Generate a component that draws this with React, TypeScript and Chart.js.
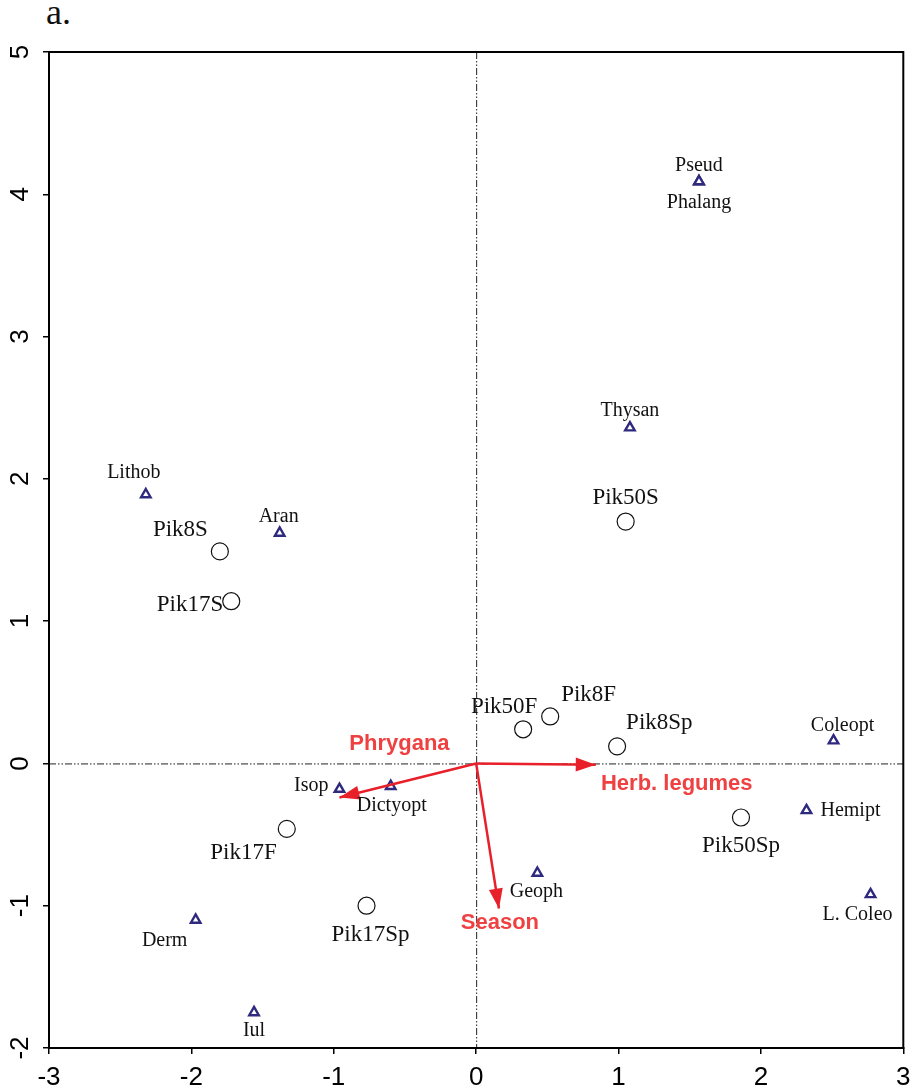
import React, { useEffect, useRef } from "react";
import { Chart, registerables } from "chart.js";

Chart.register(...registerables);

// ---- Data ----
const siteNames = ["Pik8S", "Pik17S", "Pik50S", "Pik50F", "Pik8F", "Pik8Sp", "Pik50Sp", "Pik17F", "Pik17Sp"];
const siteX = [-1.8, -1.72, 1.05, 0.33, 0.52, 0.99, 1.86, -1.33, -0.77];
const siteY = [1.49, 1.14, 1.7, 0.24, 0.33, 0.12, -0.38, -0.46, -1.0];

const speciesNames = ["Pseud", "Phalang", "Thysan", "Lithob", "Aran", "Coleopt", "Hemipt", "L. Coleo", "Isop", "Dictyopt", "Geoph", "Derm", "Iul"];
const speciesX = [1.565, 1.565, 1.08, -2.32, -1.38, 2.51, 2.32, 2.77, -0.96, -0.6, 0.43, -1.97, -1.56];
const speciesY = [4.09, 4.09, 2.36, 1.89, 1.62, 0.16, -0.33, -0.92, -0.18, -0.16, -0.77, -1.1, -1.75];

const arrowNames = ["Herb. legumes", "Phrygana", "Season"];
const arrowX = [0.84, -0.96, 0.16];
const arrowY = [-0.01, -0.24, -1.02];

const xTicks = [-3, -2, -1, 0, 1, 2, 3];
const yTicks = [-2, -1, 0, 1, 2, 3, 4, 5];

// ---- Label placement (styling, pixels) ----
const siteLabelPos = [
  { align: "right", dx: -12, dy: -21 },
  { align: "right", dx: -8, dy: 4 },
  { align: "center", dx: 0, dy: -24 },
  { align: "center", dx: -19, dy: -22 },
  { align: "left", dx: 11, dy: -22 },
  { align: "left", dx: 9, dy: -23 },
  { align: "center", dx: 0, dy: 28 },
  { align: "right", dx: -10, dy: 24 },
  { align: "center", dx: 4, dy: 29 },
];
const speciesLabelPos = [
  { align: "center", dx: 0, dy: -16 },
  { align: "center", dx: 0, dy: 21 },
  { align: "center", dx: 0, dy: -17 },
  { align: "center", dx: -12, dy: -22 },
  { align: "center", dx: -1, dy: -16 },
  { align: "center", dx: 9, dy: -15 },
  { align: "left", dx: 14, dy: 0 },
  { align: "center", dx: -13, dy: 20 },
  { align: "right", dx: -11, dy: -3 },
  { align: "center", dx: 1, dy: 20 },
  { align: "center", dx: -1, dy: 19 },
  { align: "center", dx: -31, dy: 21 },
  { align: "center", dx: 0, dy: 18 },
];
const arrowLabelPos = [
  { dx: 81, dy: 19 },
  { dx: 60, dy: -54 },
  { dx: 1, dy: 14 },
];

const RED = "#e8202a";
const LABEL_RED = "#ef4141";
const SPECIES_COLOR = "#2f2a7e";
const SERIF = "'Liberation Serif', 'Times New Roman', serif";
const SANS = "'Liberation Sans', Arial, sans-serif";

const overlayPlugin = {
  id: "overlay",
  beforeDatasetsDraw(chart: any) {
    const { ctx, chartArea } = chart;
    const xs = chart.scales.x;
    const ys = chart.scales.y;
    const x0 = xs.getPixelForValue(0);
    const y0 = ys.getPixelForValue(0);
    ctx.save();
    ctx.strokeStyle = "#222";
    ctx.lineWidth = 1;
    ctx.setLineDash([7, 2, 1.5, 2, 1.5, 2]);
    ctx.beginPath();
    ctx.moveTo(x0 + 0.5, chartArea.top);
    ctx.lineTo(x0 + 0.5, chartArea.bottom);
    ctx.moveTo(chartArea.left, y0 + 0.5);
    ctx.lineTo(chartArea.right, y0 + 0.5);
    ctx.stroke();
    ctx.restore();
  },
  afterDatasetsDraw(chart: any) {
    const { ctx } = chart;
    const xs = chart.scales.x;
    const ys = chart.scales.y;
    const ox = xs.getPixelForValue(0);
    const oy = ys.getPixelForValue(0);
    ctx.save();
    // arrowheads + labels
    arrowNames.forEach((name, i) => {
      const tx = xs.getPixelForValue(arrowX[i]);
      const ty = ys.getPixelForValue(arrowY[i]);
      const ang = Math.atan2(ty - oy, tx - ox);
      const L = 20;
      const W = 7;
      ctx.fillStyle = RED;
      ctx.beginPath();
      ctx.moveTo(tx, ty);
      ctx.lineTo(tx - L * Math.cos(ang) + W * Math.sin(ang), ty - L * Math.sin(ang) - W * Math.cos(ang));
      ctx.lineTo(tx - L * Math.cos(ang) - W * Math.sin(ang), ty - L * Math.sin(ang) + W * Math.cos(ang));
      ctx.closePath();
      ctx.fill();
      ctx.font = `bold 22px ${SANS}`;
      ctx.fillStyle = LABEL_RED;
      ctx.textAlign = "center";
      ctx.textBaseline = "middle";
      ctx.fillText(name, tx + arrowLabelPos[i].dx, ty + arrowLabelPos[i].dy);
    });
    // site labels
    ctx.fillStyle = "#111";
    ctx.textBaseline = "middle";
    ctx.font = `23px ${SERIF}`;
    siteNames.forEach((name, i) => {
      const px = xs.getPixelForValue(siteX[i]);
      const py = ys.getPixelForValue(siteY[i]);
      const p = siteLabelPos[i];
      ctx.textAlign = p.align;
      ctx.fillText(name, px + p.dx, py + p.dy);
    });
    ctx.font = `20px ${SERIF}`;
    speciesNames.forEach((name, i) => {
      const px = xs.getPixelForValue(speciesX[i]);
      const py = ys.getPixelForValue(speciesY[i]);
      const p = speciesLabelPos[i];
      ctx.textAlign = p.align;
      ctx.fillText(name, px + p.dx, py + p.dy);
    });
    ctx.restore();
  },
  afterDraw(chart: any) {
    const { ctx, chartArea } = chart;
    const ys = chart.scales.y;
    ctx.save();
    ctx.strokeStyle = "#000";
    ctx.lineWidth = 2;
    ctx.strokeRect(chartArea.left, chartArea.top, chartArea.right - chartArea.left, chartArea.bottom - chartArea.top);
    // rotated y tick labels
    ctx.fillStyle = "#000";
    ctx.font = `26px ${SANS}`;
    ctx.textAlign = "center";
    ctx.textBaseline = "middle";
    ys.ticks.forEach((t: any) => {
      const py = ys.getPixelForValue(t.value);
      ctx.save();
      ctx.translate(21, py);
      ctx.rotate(-Math.PI / 2);
      ctx.fillText(String(t.value), 0, 0);
      ctx.restore();
    });
    ctx.restore();
  },
};

export default function App() {
  const ref = useRef<HTMLCanvasElement>(null);
  useEffect(() => {
    if (!ref.current) return;
    const chart = new Chart(ref.current, {
      type: "scatter",
      data: {
        datasets: [
          ...arrowNames.map((n, i) => ({
            type: "line" as const,
            label: n,
            data: [
              { x: 0, y: 0 },
              { x: arrowX[i], y: arrowY[i] },
            ],
            borderColor: RED,
            borderWidth: 2.5,
            pointRadius: 0,
            showLine: true,
            fill: false,
          })),
          {
            label: "Species",
            data: speciesX.map((x, i) => ({ x, y: speciesY[i] })),
            pointStyle: "triangle",
            pointRadius: 5.5,
            borderColor: SPECIES_COLOR,
            backgroundColor: "#ffffff",
            borderWidth: 2.4,
          },
          {
            label: "Sites",
            data: siteX.map((x, i) => ({ x, y: siteY[i] })),
            pointStyle: "circle",
            pointRadius: 8.5,
            borderColor: "#111",
            backgroundColor: "rgba(255,255,255,0)",
            borderWidth: 1.2,
          },
        ],
      } as any,
      options: {
        animation: false,
        responsive: false,
        layout: { padding: { left: 0, top: 52, right: 7, bottom: 0 } },
        plugins: { legend: { display: false }, tooltip: { enabled: false } },
        scales: {
          x: {
            type: "linear",
            min: -3,
            max: 3,
            afterBuildTicks: (s: any) => {
              s.ticks = xTicks.map((v) => ({ value: v }));
            },
            afterFit: (s: any) => {
              s.height = 44;
              s.paddingLeft = 0;
              s.paddingRight = 0;
            },
            grid: { drawOnChartArea: false, drawTicks: true, tickLength: 6, color: "#000", lineWidth: 1.5 },
            border: { display: true, color: "#000", width: 2 },
            ticks: { color: "#000", font: { family: SANS, size: 26 }, padding: 8, maxRotation: 0 },
          },
          y: {
            type: "linear",
            min: -2,
            max: 5,
            afterBuildTicks: (s: any) => {
              s.ticks = yTicks.map((v) => ({ value: v }));
            },
            afterFit: (s: any) => {
              s.width = 49;
              s.paddingTop = 0;
              s.paddingBottom = 0;
            },
            grid: { drawOnChartArea: false, drawTicks: true, tickLength: 6, color: "#000", lineWidth: 1.5 },
            border: { display: true, color: "#000", width: 2 },
            ticks: { display: false },
          },
        },
      } as any,
      plugins: [overlayPlugin],
    });
    return () => chart.destroy();
  }, []);
  return (
    <div style={{ position: "absolute", left: 0, top: 0, width: 913, height: 1092, background: "#fff" }}>
      <div
        style={{
          position: "absolute",
          left: 46,
          top: -8,
          fontFamily: SERIF,
          fontSize: 36,
          color: "#111",
          lineHeight: "40px",
        }}
      >
        a.
      </div>
      <canvas ref={ref} width={913} height={1092} style={{ position: "absolute", left: 0, top: 0 }} />
    </div>
  );
}
